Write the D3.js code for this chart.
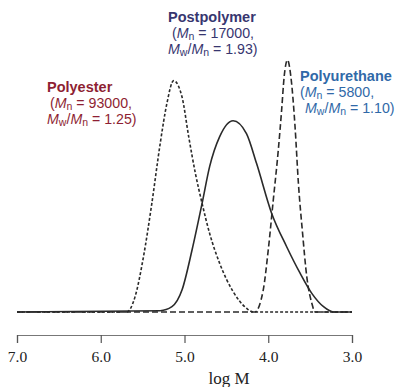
<!DOCTYPE html>
<html lang="en">
<head>
  <meta charset="UTF-8">
  <title>GPC traces</title>
  <script src="https://d3js.org/d3.v7.min.js"></script>
  <style>
    body { margin: 0; background: #fff; }
    svg { display: block; }
  </style>
</head>
<body>
  <div id="chart"></div>

  <script>
    // data (log M, relative detector response)
    const polyesterLogM = [7.0, 5.69, 5.59, 5.49, 5.39, 5.29, 5.21, 5.13, 5.03, 4.95, 4.87, 4.79, 4.70, 4.58, 4.42, 4.26, 4.18, 3.0];
    const polyesterVal  = [0, 0, 0.061, 0.219, 0.431, 0.669, 0.828, 0.918, 0.854, 0.696, 0.550, 0.431, 0.312, 0.193, 0.081, 0.015, 0, 0];

    const postLogM = [7.0, 5.29, 5.15, 5.03, 4.91, 4.79, 4.70, 4.58, 4.42, 4.26, 4.14, 3.96, 3.78, 3.62, 3.48, 3.34, 3.22, 3.0];
    const postVal  = [0, 0.005, 0.021, 0.087, 0.246, 0.431, 0.577, 0.696, 0.759, 0.708, 0.590, 0.392, 0.259, 0.154, 0.074, 0.021, 0, 0];

    const urethaneLogM = [7.0, 4.16, 4.06, 4.00, 3.94, 3.88, 3.84, 3.81, 3.77, 3.73, 3.68, 3.64, 3.59, 3.54, 3.48, 3.44, 3.0];
    const urethaneVal  = [0, 0, 0.087, 0.246, 0.444, 0.643, 0.802, 0.934, 1.0, 0.934, 0.735, 0.511, 0.312, 0.140, 0.035, 0, 0];

    const tickValues = [7.0, 6.0, 5.0, 4.0, 3.0];
    const axisTitle = "log M";

    const labelNames = ["Polyester", "Postpolymer", "Polyurethane"];
    const labelMn = ["93000", "17000", "5800"];
    const labelPdi = ["1.25", "1.93", "1.10"];

    const width = 398, height = 387;
    const svg = d3.select("#chart").append("svg")
      .attr("width", width)
      .attr("height", height);

    const x = d3.scaleLinear().domain([7, 3]).range([17, 352]);
    const y = d3.scaleLinear().domain([0, 1]).range([312, 60]);

    const line = d3.line()
      .x(d => x(d[0]))
      .y(d => y(d[1]))
      .curve(d3.curveMonotoneX);

    const series = [
      { m: polyesterLogM, v: polyesterVal, dash: "3,2" },
      { m: postLogM, v: postVal, dash: null },
      { m: urethaneLogM, v: urethaneVal, dash: "6,3" }
    ];

    series.forEach(s => {
      const pts = s.m.map((m, i) => [m, s.v[i]]);
      svg.append("path")
        .attr("d", line(pts))
        .attr("fill", "none")
        .attr("stroke", "#2a2a2a")
        .attr("stroke-width", 1.6)
        .attr("stroke-dasharray", s.dash);
    });

    // x axis
    const xAxis = d3.axisBottom(x)
      .tickValues(tickValues)
      .tickFormat(d3.format(".1f"))
      .tickSizeOuter(0)
      .tickSize(8);

    const gx = svg.append("g")
      .attr("transform", "translate(0,335)")
      .call(xAxis);
    gx.select(".domain").attr("stroke", "#777").attr("stroke-width", 1.2);
    gx.selectAll(".tick line").attr("stroke", "#555").attr("stroke-width", 1.2);
    gx.selectAll(".tick text")
      .attr("fill", "#222")
      .attr("font-family", "'Liberation Serif', 'DejaVu Serif', serif")
      .attr("font-size", 15.5)
      .attr("dy", "1.05em");

    svg.append("text")
      .attr("x", 229)
      .attr("y", 384)
      .attr("text-anchor", "middle")
      .attr("font-family", "'Liberation Serif', 'DejaVu Serif', serif")
      .attr("font-size", 17)
      .attr("fill", "#222")
      .text(axisTitle);

    // annotations
    const labelPos = [
      { x: 47, y: 92, color: "#8e1f33", indent: [0, 3, 0] },
      { x: 168, y: 22, color: "#37366f", indent: [0, 4, 0] },
      { x: 300, y: 81, color: "#3069a8", indent: [0, 0, 5] }
    ];

    labelNames.forEach((name, i) => {
      const p = labelPos[i];
      const g = svg.append("g")
        .attr("font-family", "'Liberation Sans', Arial, sans-serif")
        .attr("fill", p.color);

      g.append("text")
        .attr("x", p.x + p.indent[0]).attr("y", p.y)
        .attr("font-size", 14.5).attr("font-weight", "bold")
        .text(name);

      const t1 = g.append("text")
        .attr("x", p.x + p.indent[1]).attr("y", p.y + 16)
        .attr("font-size", 14.2);
      t1.append("tspan").text("(");
      t1.append("tspan").attr("font-style", "italic").text("M");
      t1.append("tspan").attr("font-size", 10.5).attr("dy", 2).text("n");
      t1.append("tspan").attr("dy", -2).text(" = " + labelMn[i] + ",");

      const t2 = g.append("text")
        .attr("x", p.x + p.indent[2]).attr("y", p.y + 32)
        .attr("font-size", 14.2);
      t2.append("tspan").attr("font-style", "italic").text("M");
      t2.append("tspan").attr("font-size", 10.5).attr("dy", 2).text("w");
      t2.append("tspan").attr("dy", -2).text("/");
      t2.append("tspan").attr("font-style", "italic").text("M");
      t2.append("tspan").attr("font-size", 10.5).attr("dy", 2).text("n");
      t2.append("tspan").attr("dy", -2).text(" = " + labelPdi[i] + ")");
    });
  </script>
</body>
</html>
